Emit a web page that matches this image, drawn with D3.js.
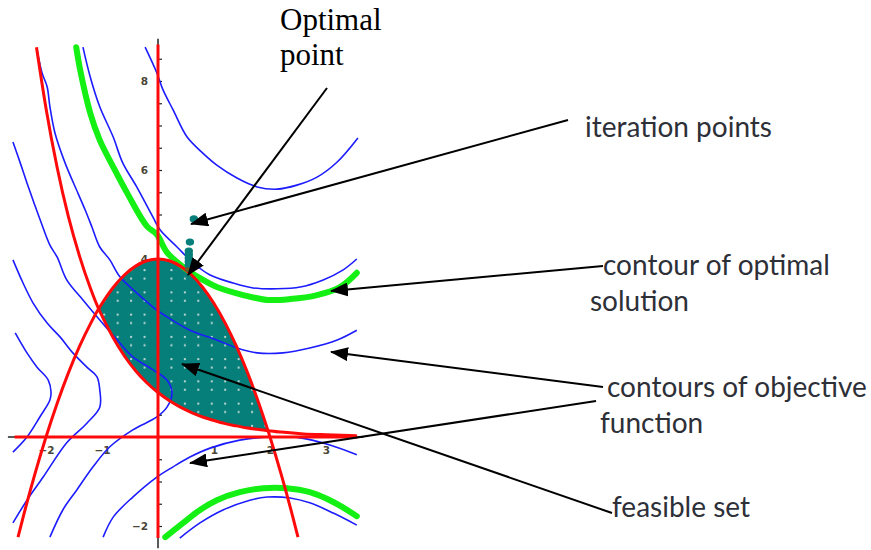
<!DOCTYPE html>
<html><head><meta charset="utf-8">
<script src="https://cdn.jsdelivr.net/npm/d3@7"></script>
<style>html,body{margin:0;padding:0;background:#fff;} svg{display:block}</style>
</head><body>
<svg id="chart" width="871" height="550"></svg>
<script>
// ---------- data (in plot coordinates) ----------
const xTickLabels = [-2, -1, 1, 2, 3];
const yTickLabels = [-2, 2, 4, 6, 8];

// upper constraint curve (red parabola)
const parabola = [[-2.5,-2.25],[-2.4,-1.76],[-2.2,-0.84],[-2.0,0.0],[-1.8,0.76],[-1.6,1.44],[-1.4,2.04],[-1.2,2.56],[-1.06,2.88],[-1.0,3.0],[-0.8,3.36],[-0.6,3.64],[-0.4,3.84],[-0.2,3.96],[0,4.0],[0.2,3.96],[0.4,3.84],[0.6,3.64],[0.8,3.36],[1.0,3.0],[1.2,2.56],[1.4,2.04],[1.6,1.44],[1.8,0.76],[1.97,0.12],[2.0,0.0],[2.2,-0.84],[2.4,-1.76],[2.5,-2.25]];
// lower constraint curve (red, decaying)
const expCurve = [[-2.17,8.76],[-2.0,7.39],[-1.8,6.05],[-1.6,4.95],[-1.4,4.06],[-1.2,3.32],[-1.06,2.88],[-1.0,2.72],[-0.8,2.23],[-0.6,1.82],[-0.4,1.49],[-0.2,1.22],[0,1.0],[0.2,0.82],[0.4,0.67],[0.6,0.55],[0.8,0.45],[1.0,0.37],[1.2,0.30],[1.4,0.25],[1.6,0.20],[1.8,0.17],[1.97,0.14],[2.2,0.11],[2.6,0.07],[3.0,0.05],[3.55,0.03]];
const feasibleXRange = [-1.06, 1.97];

// contours of the objective function (blue)
const contourA = [[-0.23,8.76],[-0.02,8.18],[0.09,7.80],[0.27,7.35],[0.52,6.74],[0.80,6.38],[1.05,6.11],[1.41,5.82],[1.77,5.62],[2.13,5.57],[2.48,5.66],[2.84,5.84],[3.20,6.18],[3.57,6.72]];
const contourB = [[-1.34,8.76],[-1.21,8.09],[-1.04,7.42],[-0.80,6.74],[-0.63,6.16],[-0.38,5.62],[-0.09,4.94],[0.04,4.65],[0.34,4.27],[0.63,3.91],[0.93,3.64],[1.34,3.46],[1.70,3.35],[2.13,3.33],[2.54,3.37],[2.95,3.53],[3.30,3.75],[3.55,4.00]];
const contourC = [[-2.16,8.70],[-2.07,8.18],[-1.98,7.87],[-1.93,7.42],[-1.84,6.83],[-1.66,6.16],[-1.43,5.48],[-1.30,5.10],[-1.18,4.72],[-1.04,4.27],[-0.86,3.98],[-0.68,3.60],[-0.38,3.24],[-0.02,2.85],[0.16,2.70],[0.57,2.40],[1.05,2.18],[1.41,2.00],[1.77,1.89],[2.23,1.89],[2.71,2.00],[3.20,2.18],[3.55,2.40]];
const contourD = [[-2.59,6.63],[-2.46,6.16],[-2.34,5.71],[-2.20,5.21],[-2.09,4.83],[-1.93,4.31],[-1.80,4.04],[-1.63,3.53],[-1.34,3.08],[-1.04,2.63],[-0.73,2.18],[-0.45,1.80],[-0.09,1.51],[0.16,1.28],[0.25,0.99],[0.16,0.67],[-0.02,0.45],[-0.45,0.16],[-0.86,-0.22],[-1.16,-0.67],[-1.45,-1.19],[-1.70,-1.64],[-1.93,-2.25]];
const contourE = [[-2.59,3.98],[-2.41,3.46],[-2.23,3.01],[-1.98,2.56],[-1.75,2.25],[-1.52,1.89],[-1.27,1.57],[-1.09,1.35],[-1.04,1.06],[-1.04,0.67],[-1.27,0.31],[-1.63,-0.13],[-2.05,-0.90],[-2.34,-1.42],[-2.59,-1.93]];
const contourF = [[-2.55,2.34],[-2.34,1.89],[-2.16,1.57],[-1.96,1.28],[-1.91,1.01],[-1.93,0.83],[-2.11,0.45],[-2.34,0.0],[-2.59,-0.34]];
const contourG = [[-0.98,-2.25],[-0.80,-1.80],[-0.45,-1.35],[-0.02,-0.90],[0.27,-0.67],[0.57,-0.45],[0.93,-0.25],[1.46,-0.07],[2.0,0.0],[2.54,-0.02],[3.07,-0.18],[3.55,-0.40]];
const contourH = [[0.39,-2.27],[0.75,-1.93],[1.16,-1.64],[1.64,-1.42],[1.95,-1.35],[2.36,-1.37],[2.71,-1.48],[3.13,-1.71],[3.55,-1.98]];

// contour through the optimal solution (green, two branches)
const optimalTop = [[-1.46,8.76],[-1.39,8.25],[-1.21,7.28],[-1.04,6.67],[-0.80,6.07],[-0.55,5.48],[-0.20,4.74],[-0.02,4.55],[0.16,4.15],[0.45,3.82],[0.75,3.57],[1.05,3.37],[1.52,3.19],[1.95,3.08],[2.36,3.10],[2.84,3.19],[3.25,3.37],[3.55,3.69]];
const optimalBottom = [[0.13,-2.25],[0.45,-1.93],[0.75,-1.64],[1.05,-1.42],[1.46,-1.24],[1.88,-1.15],[2.30,-1.15],[2.71,-1.24],[3.13,-1.46],[3.55,-1.78]];

// iteration points and the optimum
const iterationPoints = [[0.64,4.90],[0.57,4.38],[0.55,4.18],[0.55,4.10],[0.55,4.02],[0.55,3.94],[0.55,3.86]];
const optimum = [0.54, 3.76];

// ---------- layout ----------
const svg = d3.select('#chart');
const x = d3.scaleLinear().domain([-2.5, 3.5]).range([18, 354]);
const y = d3.scaleLinear().domain([-2.5, 9]).range([548.25, 36.5]);

const BLUE = '#1c1cff', GREEN = '#14f014', RED = '#ff0a0a', TEAL = '#067e79';

const defs = svg.append('defs');
const pw = x(0.24) - x(0), ph = y(0) - y(0.5);
const pat = defs.append('pattern').attr('id', 'dots').attr('patternUnits', 'userSpaceOnUse')
  .attr('width', pw).attr('height', ph).attr('x', x(0) - 1).attr('y', y(3.75) - 1);
pat.append('rect').attr('x', 0).attr('y', 0).attr('width', 2).attr('height', 2).attr('fill', '#b9d6d3');
pat.append('rect').attr('x', 0).attr('y', 8.4).attr('width', 2).attr('height', 2).attr('fill', '#b9d6d3');

defs.append('marker').attr('id', 'arrow').attr('markerUnits', 'userSpaceOnUse')
  .attr('viewBox', '0 0 18 14').attr('refX', 17).attr('refY', 7)
  .attr('markerWidth', 18).attr('markerHeight', 14).attr('orient', 'auto')
  .append('path').attr('d', 'M0,0 L18,7 L0,14 Z').attr('fill', '#000');

// black axes
svg.append('line').attr('x1', x(-2.68)).attr('x2', x(3.67)).attr('y1', y(0)).attr('y2', y(0))
  .attr('stroke', '#222').attr('stroke-width', 1.5);
svg.append('line').attr('x1', x(0)).attr('x2', x(0)).attr('y1', y(8.95)).attr('y2', y(-2.5))
  .attr('stroke', '#222').attr('stroke-width', 1.5);
svg.append('g').attr('transform', `translate(${x(0) + 1},0)`)
  .call(d3.axisRight(y).tickValues(d3.range(-2, 8.75, 0.5).filter(v => v !== 0)).tickSize(3).tickFormat(''))
  .call(g => g.select('.domain').remove())
  .selectAll('line').attr('stroke', '#222').attr('stroke-width', 1.2);

const styleLabels = g => {
  g.select('.domain').remove();
  g.attr('font-family', 'DejaVu Sans').attr('font-size', 10.5);
  g.selectAll('text').attr('fill', '#4a4636').attr('font-weight', 'bold');
};
svg.append('g').attr('transform', `translate(0,${y(0)})`)
  .call(d3.axisBottom(x).tickValues(xTickLabels).tickSize(0).tickPadding(10).tickFormat(d3.format('d')))
  .call(styleLabels);
svg.append('g').attr('transform', `translate(${x(0) - 8},0)`)
  .call(d3.axisLeft(y).tickValues(yTickLabels).tickSize(0).tickPadding(2).tickFormat(d3.format('d')))
  .call(styleLabels);

// feasible set
const lo = new Map(expCurve.map(d => [d[0], d[1]]));
const feasible = parabola.filter(d => d[0] >= feasibleXRange[0] && d[0] <= feasibleXRange[1] && lo.has(d[0]))
  .map(d => ({x: d[0], hi: d[1], lo: lo.get(d[0])}));
const area = d3.area().curve(d3.curveMonotoneX).x(d => x(d.x)).y0(d => y(d.lo)).y1(d => y(d.hi));
svg.append('path').attr('d', area(feasible)).attr('fill', TEAL);
svg.append('path').attr('d', area(feasible)).attr('fill', 'url(#dots)');

// contours
const smooth = d3.line().curve(d3.curveCatmullRom.alpha(0.5)).x(d => x(d[0])).y(d => y(d[1]));
[contourA, contourB, contourC, contourD, contourE, contourF, contourG, contourH].forEach(c =>
  svg.append('path').attr('d', smooth(c)).attr('fill', 'none').attr('stroke', BLUE).attr('stroke-width', 1.6));
[optimalTop, optimalBottom].forEach(c =>
  svg.append('path').attr('d', smooth(c)).attr('fill', 'none').attr('stroke', GREEN)
    .attr('stroke-width', 6).attr('stroke-linecap', 'round'));

// red traces
const mono = d3.line().curve(d3.curveMonotoneX).x(d => x(d[0])).y(d => y(d[1]));
svg.append('line').attr('x1', x(-2.56)).attr('x2', x(3.56)).attr('y1', y(0)).attr('y2', y(0))
  .attr('stroke', RED).attr('stroke-width', 3);
svg.append('line').attr('x1', x(0)).attr('x2', x(0)).attr('y1', y(8.82)).attr('y2', y(-2.27))
  .attr('stroke', RED).attr('stroke-width', 3);
svg.append('path').attr('d', mono(parabola)).attr('fill', 'none').attr('stroke', RED).attr('stroke-width', 3);
svg.append('path').attr('d', mono(expCurve)).attr('fill', 'none').attr('stroke', RED).attr('stroke-width', 3);

// iteration points
svg.selectAll('ellipse.it').data(iterationPoints).join('ellipse').attr('class', 'it')
  .attr('cx', d => x(d[0])).attr('cy', d => y(d[1])).attr('rx', 4.2).attr('ry', 3.6).attr('fill', TEAL);
svg.append('ellipse').attr('cx', x(optimum[0])).attr('cy', y(optimum[1])).attr('rx', 3.5).attr('ry', 2.5).attr('fill', '#6b5a2c');

// annotations
const arrows = [
  [327, 88, 188, 275],
  [568, 120, 191, 224],
  [603, 266, 331, 291],
  [603, 387, 331, 352],
  [596, 401, 190, 463],
  [612, 513, 182, 364]
];
arrows.forEach(a => svg.append('line').attr('x1', a[0]).attr('y1', a[1]).attr('x2', a[2]).attr('y2', a[3])
  .attr('stroke', '#000').attr('stroke-width', 2).attr('marker-end', 'url(#arrow)'));

const serif = svg.append('text').attr('font-family', 'Liberation Serif').attr('font-size', 31).attr('fill', '#000');
serif.append('tspan').attr('x', 280).attr('y', 30).text('Optimal');
serif.append('tspan').attr('x', 280).attr('y', 65).text('point');

const labels = [
  ['iteration points', 585, 137],
  ['contour of optimal', 603, 275],
  ['solution', 590, 311],
  ['contours of objective', 607, 397],
  ['function', 600, 433],
  ['feasible set', 612, 517]
];
svg.selectAll('text.lab').data(labels).join('text').attr('class', 'lab')
  .attr('x', d => d[1]).attr('y', d => d[2]).text(d => d[0])
  .attr('font-family', 'Lato').attr('font-size', 28).attr('fill', '#2e3038');
</script>
</body></html>
